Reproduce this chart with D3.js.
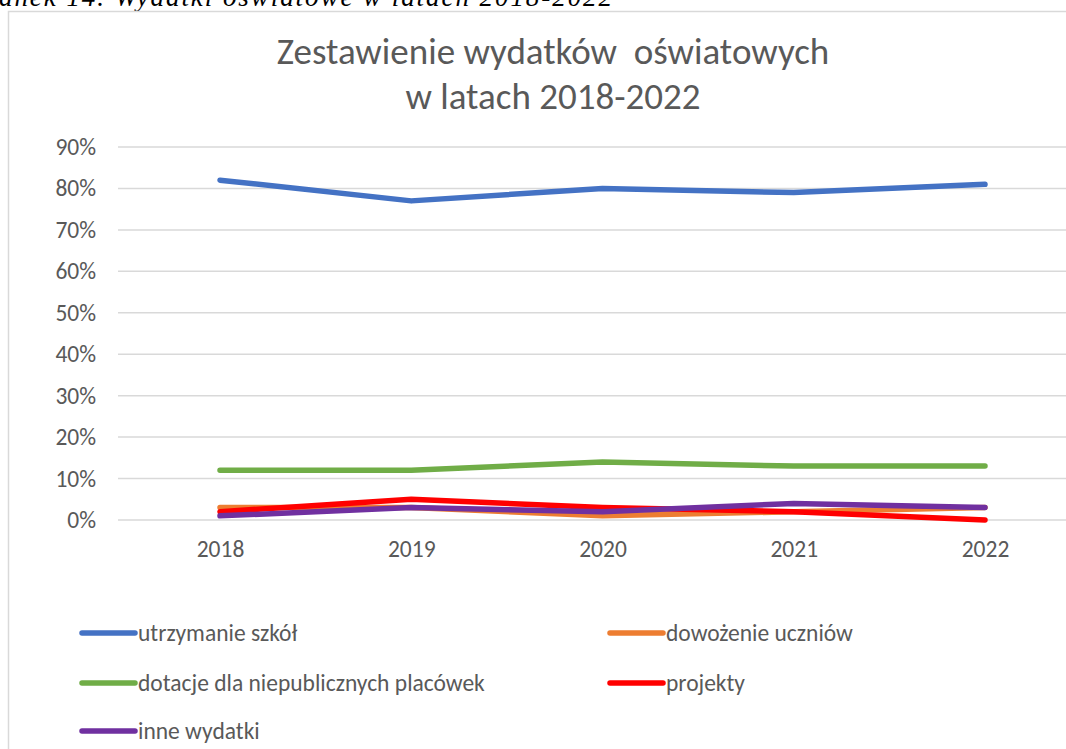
<!DOCTYPE html>
<html>
<head>
<meta charset="utf-8">
<script src="https://cdn.jsdelivr.net/npm/d3@7"></script>
<style>
  body { margin: 0; background: #fff; }
  svg { display: block; }
</style>
</head>
<body>
<div class="chart"></div>
<script>
"use strict";
(function(){

// data (percent of spending)
var years = ['2018', '2019', '2020', '2021', '2022'];
var seriesNames = ['utrzymanie szkół', 'dowożenie uczniów', 'dotacje dla niepublicznych placówek', 'projekty', 'inne wydatki'];
var utrzymanie = [82, 77, 80, 79, 81];
var dowozenie = [3, 3, 1, 2, 3];
var dotacje = [12, 12, 14, 13, 13];
var projekty = [2, 5, 3, 2, 0];
var inne = [1, 3, 2, 4, 3];
var yTicks = [0, 10, 20, 30, 40, 50, 60, 70, 80, 90];
var colors = ['#4472c4', '#ed7d31', '#70ad47', '#ff0000', '#7030a0'];

var width = 1066;
var height = 749;
var font = "Carlito, 'Open Sans', sans-serif";
var textColor = '#595959';

var svg = d3.select('.chart')
            .append('svg')
            .attr('width', width)
            .attr('height', height);

// caption above the chart, cut off at the top like in the scan
svg.append('text')
   .attr('x', -1)
   .attr('y', 6)
   .attr('font-family', "'Liberation Serif', serif")
   .attr('font-style', 'italic')
   .attr('font-size', 27)
   .attr('textLength', 613)
   .attr('fill', '#000')
   .text('anek 14. Wydatki oświatowe w latach 2018-2022');

// chart frame
svg.append('path')
   .attr('d', 'M8.5,' + height + 'V11.5H' + width)
   .attr('fill', 'none')
   .attr('stroke', '#d9d9d9')
   .attr('stroke-width', 1.5);

// title
var title = svg.append('text')
   .attr('text-anchor', 'middle')
   .attr('font-family', font)
   .attr('font-size', 37)
   .attr('fill', textColor);
title.append('tspan').attr('x', 553).attr('y', 64).attr('xml:space', 'preserve').text('Zestawienie wydatków  oświatowych');
title.append('tspan').attr('x', 553).attr('y', 109).text('w latach 2018-2022');

// scales
var x = d3.scalePoint().domain(years).range([220, 985]);
var y = d3.scaleLinear().domain([0, 90]).range([520, 147]);

// gridlines
svg.append('g')
   .selectAll('line')
   .data(yTicks)
   .enter().append('line')
   .attr('x1', 118)
   .attr('x2', width)
   .attr('y1', function(d){ return y(d) })
   .attr('y2', function(d){ return y(d) })
   .attr('stroke', '#d9d9d9')
   .attr('stroke-width', 1.5);

// y axis labels
var yAxis = svg.append('g')
   .attr('transform', 'translate(104,0)')
   .call(d3.axisLeft(y).tickValues(yTicks).tickSize(0).tickPadding(8)
           .tickFormat(function(d){ return d + '%' }));
yAxis.select('.domain').remove();
yAxis.selectAll('text')
     .attr('font-family', font)
     .attr('font-size', 23.5)
     .attr('fill', textColor);

// x axis labels
var xAxis = svg.append('g')
   .attr('transform', 'translate(0,540)')
   .call(d3.axisBottom(x).tickSize(0).tickPadding(0));
xAxis.select('.domain').remove();
xAxis.selectAll('text')
     .attr('font-family', font)
     .attr('font-size', 23.5)
     .attr('fill', textColor);

// lines
var allSeries = [utrzymanie, dowozenie, dotacje, projekty, inne];
var line = d3.line()
   .x(function(d, i){ return x(years[i]) })
   .y(function(d){ return y(d) });

svg.append('g')
   .selectAll('path')
   .data(allSeries)
   .enter().append('path')
   .attr('d', line)
   .attr('fill', 'none')
   .attr('stroke', function(d, i){ return colors[i] })
   .attr('stroke-width', 5.5)
   .attr('stroke-linecap', 'round')
   .attr('stroke-linejoin', 'round');

// legend, two columns
var legendX = [82, 610];
var legendY = [633, 683, 731];
var legend = svg.append('g')
   .selectAll('g')
   .data(seriesNames)
   .enter().append('g')
   .attr('transform', function(d, i){
     return 'translate(' + legendX[i % 2] + ',' + legendY[Math.floor(i / 2)] + ')'
   });

legend.append('line')
      .attr('x1', 0)
      .attr('x2', 53)
      .attr('stroke', function(d, i){ return colors[i] })
      .attr('stroke-width', 5.5)
      .attr('stroke-linecap', 'round');

legend.append('text')
      .attr('x', 56)
      .attr('dy', '0.35em')
      .attr('font-family', font)
      .attr('font-size', 23.5)
      .attr('fill', textColor)
      .text(function(d){ return d });

})();
</script>
</body>
</html>
